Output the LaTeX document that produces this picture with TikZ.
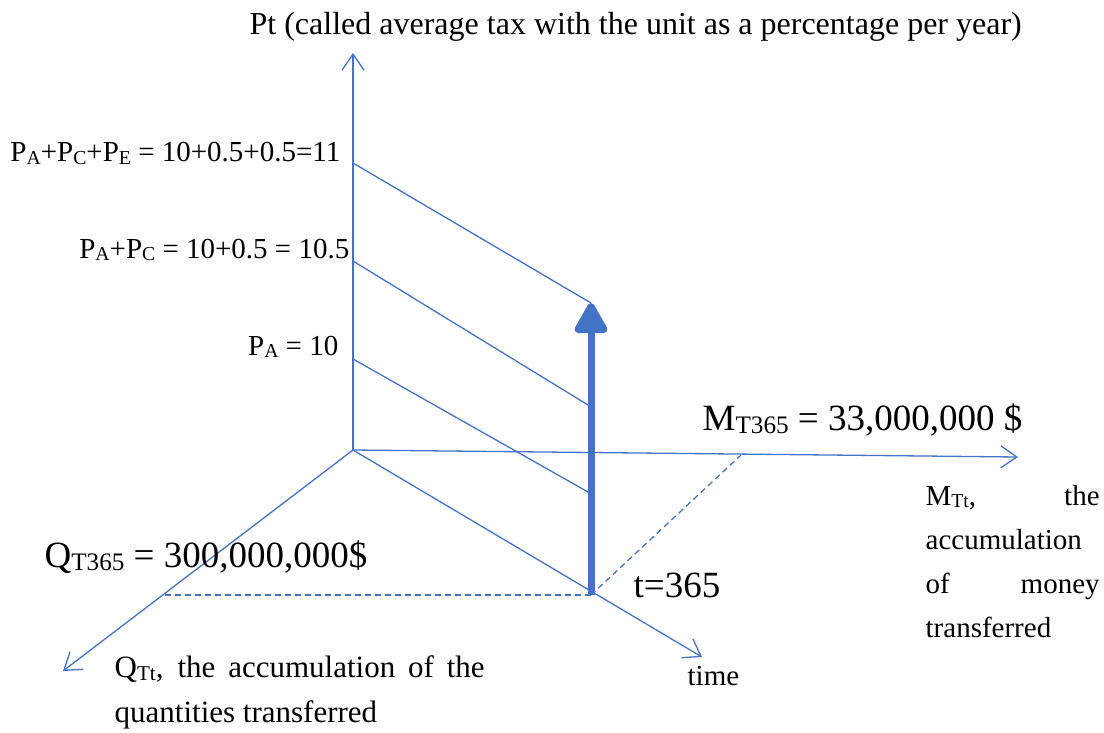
\documentclass[tikz,border=0pt]{standalone}
\usepackage{fontspec}
\setmainfont{Liberation Serif}
\usetikzlibrary{arrows.meta}

\definecolor{axisblue}{RGB}{68,114,196}
\newcommand{\lblfont}{\fontsize{29bp}{44bp}\selectfont}
\newcommand{\midfont}{\fontsize{31bp}{45bp}\selectfont}
\newcommand{\bigfont}{\fontsize{37bp}{44bp}\selectfont}
\newcommand{\sub}[1]{\raisebox{-0.1em}{\scalebox{0.68}{#1}}}

\begin{document}
\begin{tikzpicture}[x=1bp,y=-1bp,line width=1.3bp,
  axis/.style={axisblue,-{Straight Barb[length=16bp,width=22bp]}},
  level/.style={axisblue},
  guide/.style={axisblue,dash pattern=on 6bp off 4bp},
  lbl/.style={inner sep=0pt,font=\lblfont},
  midlbl/.style={inner sep=0pt,font=\midfont},
  biglbl/.style={inner sep=0pt,font=\bigfont}]
\useasboundingbox (0,0) rectangle (1104,733);

%axes
\coordinate (O) at (353,450);
\coordinate (ptop) at (353,53);
\coordinate (mend) at (1018,457);
\coordinate (tend) at (702,657);
\coordinate (qend) at (63,671);
\draw[axis] (O) -- (ptop);
\draw[axis] (O) -- (mend);
\draw[axis] (O) -- (tend);
\draw[axis] (O) -- (qend);

%tax levels
\coordinate (pa) at (353,359);
\coordinate (pac) at (353,261);
\coordinate (pace) at (353,163);
\coordinate (paend) at (588,492);
\coordinate (pacend) at (588,405);
\coordinate (paceend) at (591,303);
\draw[level] (pa) -- (paend);
\draw[level] (pac) -- (pacend);
\draw[level] (pace) -- (paceend);

%day 365
\coordinate (t365) at (591,595);
\coordinate (qmark) at (165,595);
\coordinate (mmark) at (741,455);
\draw[guide] (qmark) -- (t365);
\draw[guide] (t365) -- (mmark);
\draw[axisblue,line width=7bp,-{Triangle[length=34bp,width=36bp,round]}] (t365) -- (paceend);

%labels
\node[midlbl,anchor=base west,font=\fontsize{32bp}{40bp}\selectfont] (ptitle) at (249,35) {Pt (called average tax with the unit as a percentage per year)};
\node[lbl,anchor=base east] (lpace) at (341,162) {P\sub{A}+P\sub{C}+P\sub{E} = 10+0.5+0.5=11};
\node[lbl,anchor=base east] (lpac) at (350,258) {P\sub{A}+P\sub{C} = 10+0.5 = 10.5};
\node[lbl,anchor=base east] (lpa) at (339,355) {P\sub{A} = 10};

\node[biglbl,anchor=base west] (lm365) at (702,430) {M\sub{T365} = 33,000,000 \$};
\node[biglbl,anchor=base west] (lq365) at (44,567) {Q\sub{T365} = 300,000,000\$};
\node[biglbl,anchor=base west] (lt365) at (633,597) {t=365};

\node[lbl,anchor=base west] (ltime) at (687,685) {time};
\node[lbl,anchor=base west,text width=174bp,align=left] (lmtt) at (925,505)
  {M\sub{Tt},\hfill the\\accumulation\\of\hfill money\\transferred};
\node[midlbl,anchor=base west,text width=370bp,align=justify] (lqtt) at (114,677)
  {Q\sub{Tt}, the accumulation of the \linebreak quantities transferred};

\end{tikzpicture}
\end{document}
